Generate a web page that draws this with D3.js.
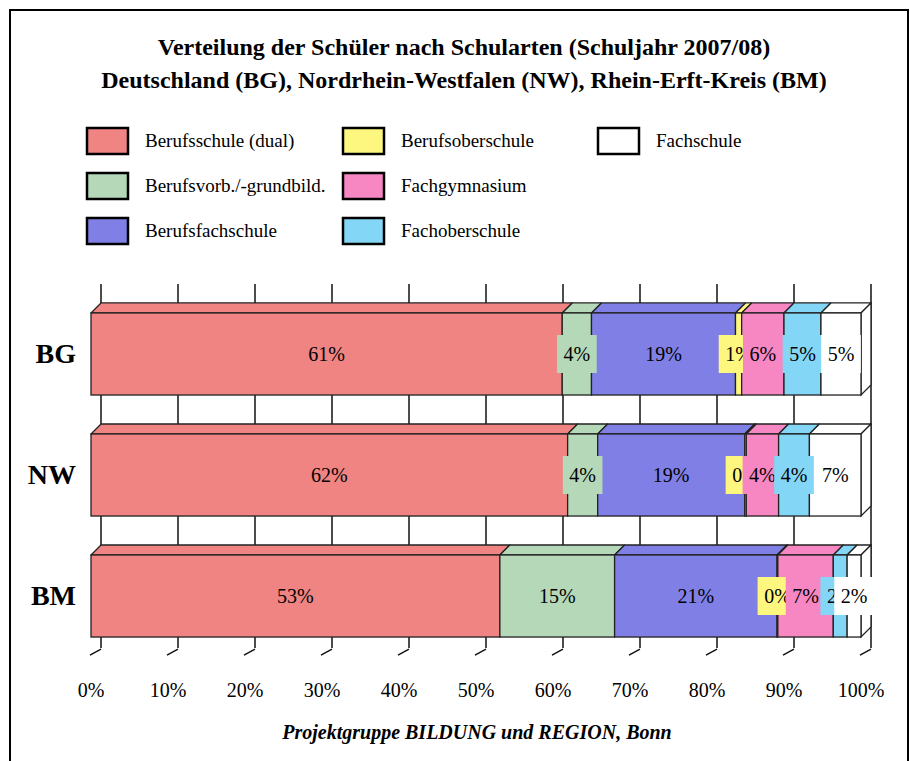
<!DOCTYPE html>
<html>
<head>
  <meta charset="utf-8">
  <script src="https://d3js.org/d3.v7.min.js"></script>
  <style>
    body { margin: 0; background: #fff; }
    text { font-family: "Liberation Serif", "Times New Roman", serif; fill: #000; }
  </style>
</head>
<body>
<script type="text/javascript">

  // regions (one stacked bar each)
  var regions = ["BG", "NW", "BM"];

  // school types, in stacking order
  var schoolTypes = ["Berufsschule (dual)", "Berufsvorb./-grundbild.", "Berufsfachschule",
                     "Berufsoberschule", "Fachgymnasium", "Fachoberschule", "Fachschule"];

  // shares in percent, per school type, for BG / NW / BM
  var berufsschule    = [61.2, 61.9, 53.1];
  var berufsvorb      = [3.8, 3.9, 14.9];
  var berufsfach      = [18.7, 19.1, 21.1];
  var berufsober      = [0.8, 0.2, 0.1];
  var fachgymnasium   = [5.5, 4.2, 7.2];
  var fachober        = [4.8, 4.0, 1.8];
  var fachschule      = [5.2, 6.7, 1.8];

  var xTicks = [0, 10, 20, 30, 40, 50, 60, 70, 80, 90, 100];

  var colors = ["#ef8483", "#b4d8b8", "#7f7fe6", "#fdf77f", "#f787c3", "#83d6f5", "#ffffff"];

  var seriesValues = [berufsschule, berufsvorb, berufsfach, berufsober, fachgymnasium, fachober, fachschule];

  var width = 910, height = 761;
  var depth = 10;   // 3d offset of the back plane

  var svg = d3.select("body").append("svg")
      .attr("width", width)
      .attr("height", height);

  // outer frame
  svg.append("rect")
      .attr("x", 10).attr("y", 10)
      .attr("width", 898).attr("height", 800)
      .style("fill", "none").style("stroke", "#000").style("stroke-width", 2);

  // title
  svg.selectAll("text.title")
      .data(["Verteilung der Schüler nach Schularten (Schuljahr 2007/08)",
             "Deutschland (BG), Nordrhein-Westfalen (NW), Rhein-Erft-Kreis (BM)"])
      .enter().append("text")
      .attr("class", "title")
      .attr("x", 464)
      .attr("y", function (d, i) { return 55 + i * 33; })
      .attr("text-anchor", "middle")
      .style("font-size", "24px")
      .style("font-weight", "bold")
      .text(function (d) { return d; });

  // legend, three columns filled top to bottom
  var legendX = [87, 343, 598], legendY = [128, 173, 218];
  var legend = svg.selectAll("g.legend")
      .data(schoolTypes)
      .enter().append("g")
      .attr("class", "legend")
      .attr("transform", function (d, i) {
        return "translate(" + legendX[Math.floor(i / 3)] + "," + legendY[i % 3] + ")";
      });
  legend.append("rect")
      .attr("width", 41).attr("height", 26)
      .style("fill", function (d, i) { return colors[i]; })
      .style("stroke", "#000").style("stroke-width", 2.5);
  legend.append("text")
      .attr("x", 58).attr("y", 19)
      .style("font-size", "19px")
      .text(function (d) { return d; });

  // scales
  var x = d3.scaleLinear().domain([0, 100]).range([91, 861]);
  var y = d3.scaleBand().domain(regions).range([274, 676]).padding(0.322);
  var barBottom = y(regions[regions.length - 1]) + y.bandwidth();

  // back wall grid lines
  svg.selectAll("line.grid")
      .data(xTicks)
      .enter().append("line")
      .attr("class", "grid")
      .attr("x1", function (d) { return x(d) + depth; })
      .attr("x2", function (d) { return x(d) + depth; })
      .attr("y1", 284)
      .attr("y2", barBottom + 11)
      .style("stroke", "#111").style("stroke-width", 1.5);

  // floor tick marks
  svg.selectAll("line.tick")
      .data(xTicks)
      .enter().append("line")
      .attr("class", "tick")
      .attr("x1", function (d) { return x(d) + depth; })
      .attr("x2", function (d) { return x(d) - 1; })
      .attr("y1", barBottom + 12)
      .attr("y2", barBottom + 18)
      .style("stroke", "#111").style("stroke-width", 1.5);

  // axis labels
  svg.selectAll("text.xlab")
      .data(xTicks)
      .enter().append("text")
      .attr("class", "xlab")
      .attr("x", function (d) { return x(d); })
      .attr("y", 697)
      .attr("text-anchor", "middle")
      .style("font-size", "20px")
      .text(function (d) { return d + "%"; });

  // build the stack segments
  var segments = [];
  regions.forEach(function (r, ri) {
    var acc = 0;
    seriesValues.forEach(function (vals, si) {
      segments.push({ region: r, series: si, x0: acc, x1: acc + vals[ri], value: vals[ri],
                      last: si === seriesValues.length - 1 });
      acc += vals[ri];
    });
  });

  var bars = svg.selectAll("g.seg")
      .data(segments)
      .enter().append("g")
      .attr("class", "seg");

  // top face
  bars.append("path")
      .attr("d", function (d) {
        var t = y(d.region), a = x(d.x0), b = x(d.x1);
        return "M" + a + "," + t + "L" + b + "," + t + "L" + (b + depth) + "," + (t - depth) +
               "L" + (a + depth) + "," + (t - depth) + "Z";
      })
      .style("fill", function (d) { return colors[d.series]; })
      .style("stroke", "#222").style("stroke-width", 1.3).style("stroke-linejoin", "round");

  // right side face of the whole bar
  bars.filter(function (d) { return d.last; }).append("path")
      .attr("d", function (d) {
        var t = y(d.region), bt = t + y.bandwidth(), b = x(d.x1);
        return "M" + b + "," + t + "L" + (b + depth) + "," + (t - depth) + "L" + (b + depth) + "," +
               (bt - depth) + "L" + b + "," + bt + "Z";
      })
      .style("fill", function (d) { return colors[d.series]; })
      .style("stroke", "#222").style("stroke-width", 1.3);

  // front face
  bars.append("rect")
      .attr("x", function (d) { return x(d.x0); })
      .attr("y", function (d) { return y(d.region); })
      .attr("width", function (d) { return x(d.x1) - x(d.x0); })
      .attr("height", y.bandwidth())
      .style("fill", function (d) { return colors[d.series]; })
      .style("stroke", "#222").style("stroke-width", 1.3);

  // category labels
  svg.selectAll("text.cat")
      .data(regions)
      .enter().append("text")
      .attr("class", "cat")
      .attr("x", 76)
      .attr("y", function (d) { return y(d) + y.bandwidth() / 2 + 9; })
      .attr("text-anchor", "end")
      .style("font-size", "28px")
      .style("font-weight", "bold")
      .text(function (d) { return d; });

  // data labels with a box in the series colour, later ones drawn over earlier
  var labels = svg.selectAll("g.lab")
      .data(segments)
      .enter().append("g")
      .attr("class", "lab")
      .attr("transform", function (d) {
        return "translate(" + ((x(d.x0) + x(d.x1)) / 2) + "," + (y(d.region) + y.bandwidth() / 2) + ")";
      });
  labels.append("text")
      .attr("y", 7)
      .attr("text-anchor", "middle")
      .style("font-size", "20px")
      .text(function (d) { return Math.round(d.value) + "%"; });
  labels.each(function (d) {
    var g = d3.select(this);
    var w = g.select("text").node().getComputedTextLength() + 13;
    g.insert("rect", "text")
        .attr("x", -w / 2).attr("y", -19)
        .attr("width", w).attr("height", 38)
        .style("fill", colors[d.series]);
  });

  // footer
  svg.append("text")
      .attr("x", 477)
      .attr("y", 739)
      .attr("text-anchor", "middle")
      .style("font-size", "20px")
      .style("font-weight", "bold")
      .style("font-style", "italic")
      .text("Projektgruppe BILDUNG und REGION, Bonn");

</script>
</body>
</html>
